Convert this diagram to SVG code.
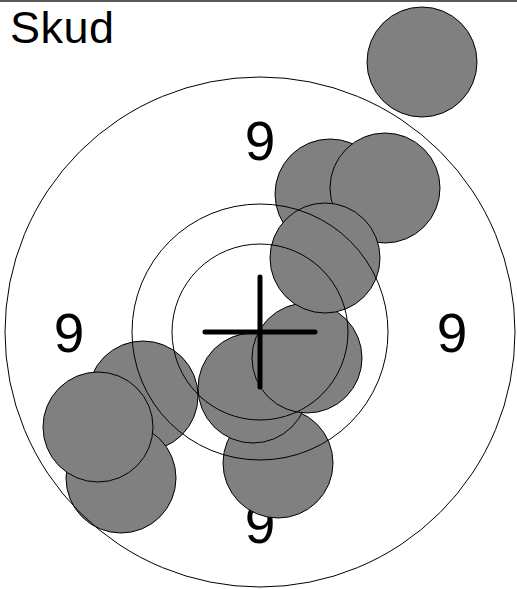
<svg xmlns="http://www.w3.org/2000/svg" width="517" height="589" viewBox="0 0 517 589">
<style>
.shot{fill:#808080;stroke:#000;stroke-width:1}
.ring{fill:none;stroke:#000;stroke-width:1}
.num{font-family:"Liberation Sans",Arial,sans-serif;font-size:55px;fill:#000;text-anchor:middle}
.title{font-family:"Liberation Sans",Arial,sans-serif;font-size:45px;fill:#000}
.cross{stroke:#000;stroke-width:5;stroke-linecap:round;fill:none}
</style>
<rect x="0" y="0" width="517" height="589" fill="#fff"/>
<line x1="0" y1="1" x2="517" y2="1" stroke="#222" stroke-width="1.5"/>
<text class="title" x="10" y="43" textLength="104" lengthAdjust="spacing">Skud</text>
<g id="numbers">
<text class="num" x="260" y="160">9</text>
<text class="num" x="69" y="352">9</text>
<text class="num" x="452" y="352">9</text>
<text class="num" x="260" y="543">9</text>
</g>
<g id="shots">
<circle id="shot1" class="shot" cx="422" cy="62" r="55"/>
<circle id="shot7" class="shot" cx="278" cy="463" r="55"/>
<circle id="shot6" class="shot" cx="253" cy="388" r="55"/>
<circle id="shot5" class="shot" cx="307" cy="358" r="55"/>
<circle id="shot2" class="shot" cx="330" cy="194" r="55"/>
<circle id="shot3" class="shot" cx="385" cy="188" r="55"/>
<circle id="shot4" class="shot" cx="325" cy="258" r="55"/>
<circle id="shot8" class="shot" cx="143" cy="396" r="55"/>
<circle id="shot10" class="shot" cx="121" cy="478" r="55"/>
<circle id="shot9" class="shot" cx="98" cy="427" r="55"/>
</g>
<g id="rings">
<circle class="ring" cx="260" cy="332" r="255"/>
<circle class="ring" cx="260" cy="332" r="128"/>
<circle class="ring" cx="260" cy="332" r="88"/>
</g>
<g id="cross">
<path class="cross" d="M205,332 H315 M260,277 V387"/>
</g>
</svg>
